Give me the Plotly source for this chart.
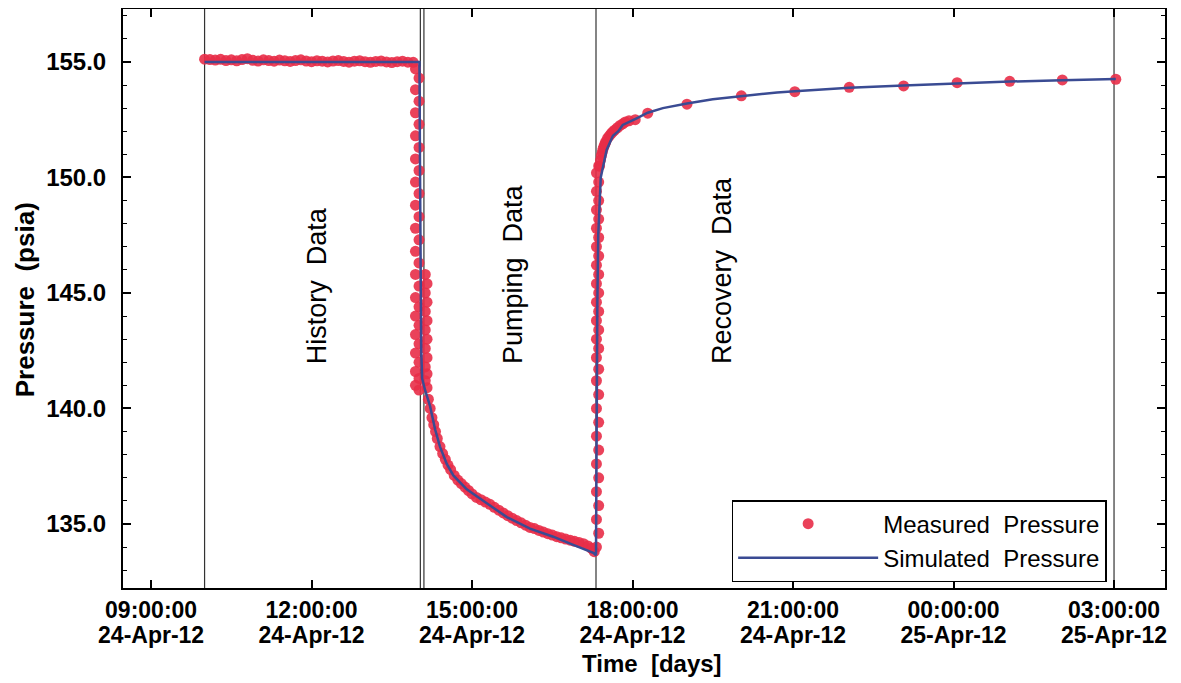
import plotly.graph_objects as go

# ---------------- data ----------------
D1 = "2012-04-24 "
D2 = "2012-04-25 "

# measured pressure (psia)
hist_times = ["10:00", "10:06", "10:12", "10:18", "10:24", "10:30", "10:36", "10:42", "10:48", "10:54",
              "11:00", "11:06", "11:12", "11:18", "11:24", "11:30", "11:36", "11:42", "11:48", "11:54",
              "12:00", "12:06", "12:12", "12:18", "12:24", "12:30", "12:36", "12:42", "12:48", "12:54",
              "13:00", "13:06", "13:12", "13:18", "13:24", "13:30", "13:36", "13:42", "13:48", "13:54"]
hist_values = [155.12, 155.10, 155.08, 155.11, 155.06, 155.09, 155.05, 155.10, 155.14, 155.07,
               155.04, 155.09, 155.06, 155.03, 155.08, 155.05, 155.02, 155.06, 155.09, 155.04,
               155.01, 155.05, 155.03, 155.00, 155.04, 155.06, 155.02, 154.99, 155.03, 155.05,
               155.01, 154.98, 155.02, 155.04, 155.00, 154.97, 155.01, 155.03, 154.99, 154.98]

drop_times = ["13:56:30", "14:00:30"] * 16
drop_values = [154.7, 154.3, 153.8, 153.3, 152.8, 152.3, 151.8, 151.3, 150.8, 150.3,
               149.8, 149.3, 148.8, 148.3, 147.8, 147.3, 146.8, 146.3, 145.8, 145.3,
               144.8, 144.4, 144.0, 143.6, 143.2, 142.8, 142.4, 142.0, 141.6, 141.3,
               141.0, 140.8]

drop2_times = ["14:07:30", "14:09:30"] * 7
drop2_values = [145.8, 145.4, 145.0, 144.6, 144.2, 143.8, 143.4, 143.0, 142.6, 142.2,
                141.8, 141.5, 141.2, 140.9]

pump_times = ["14:11", "14:13", "14:15", "14:17", "14:19", "14:21", "14:24", "14:27", "14:30", "14:33",
              "14:36", "14:40", "14:44", "14:48", "14:52", "14:56", "15:00", "15:05", "15:10", "15:15",
              "15:20", "15:25", "15:30", "15:35", "15:40", "15:45", "15:50", "15:55", "16:00", "16:05",
              "16:10", "16:15", "16:20", "16:25", "16:30", "16:35", "16:40", "16:45", "16:50", "16:55",
              "17:00", "17:05", "17:10", "17:14", "17:17"]
pump_values = [140.4, 140.0, 139.6, 139.3, 139.0, 138.7, 138.35, 138.05, 137.8, 137.55,
               137.35, 137.1, 136.9, 136.75, 136.6, 136.45, 136.3, 136.15, 136.05, 135.95,
               135.85, 135.72, 135.6, 135.48, 135.36, 135.25, 135.15, 135.05, 134.95, 134.85,
               134.8, 134.72, 134.65, 134.58, 134.52, 134.45, 134.4, 134.35, 134.3, 134.25,
               134.2, 134.15, 134.05, 133.95, 133.8]

rise_times = ["17:19:30", "17:22:00"] * 18
rise_values = [134.0, 134.6, 135.2, 135.8, 136.4, 137.0, 137.6, 138.2, 138.8, 139.4,
               140.0, 140.6, 141.2, 141.7, 142.2, 142.6, 143.0, 143.4, 143.8, 144.2,
               144.6, 145.0, 145.4, 145.8, 146.2, 146.6, 147.0, 147.4, 147.8, 148.2,
               148.6, 149.0, 149.4, 149.8, 150.2, 150.5]

rec_times = [D1 + t for t in ["17:23", "17:24", "17:25", "17:26", "17:27", "17:28", "17:29", "17:30",
                              "17:32", "17:34", "17:36", "17:38", "17:40", "17:43", "17:46", "17:49",
                              "17:52", "17:56", "18:03", "18:17", "19:01",
                              "20:02", "21:02", "22:03", "23:04"]] + \
            [D2 + t for t in ["00:04", "01:03", "02:02", "03:02"]]
rec_values = [150.5, 150.75, 150.95, 151.1, 151.25, 151.35, 151.45, 151.55,
              151.7, 151.8, 151.9, 151.98, 152.05, 152.15, 152.25, 152.32,
              152.4, 152.45, 152.5, 152.78, 153.17,
              153.53, 153.71, 153.90, 153.96,
              154.10, 154.16, 154.22, 154.25]

meas_times = ([D1 + t for t in hist_times] + [D1 + t for t in drop_times] +
              [D1 + t for t in drop2_times] + [D1 + t for t in pump_times] +
              [D1 + t for t in rise_times] + rec_times)
meas_values = hist_values + drop_values + drop2_values + pump_values + rise_values + rec_values

# simulated pressure (psia)
sim_times = [D1 + t for t in ["10:00:00", "14:01:00", "14:01:40", "14:02:20", "14:03:00", "14:04:00",
                              "14:07:15", "14:12:54", "14:18:30", "14:24:00", "14:31:37", "14:39:00",
                              "14:54:00", "15:16:30", "15:39:00", "16:05:00", "16:31:00", "16:53:30",
                              "17:16:00", "17:19:00", "17:19:30", "17:20:00", "17:20:30", "17:21:30",
                              "17:24:20", "17:31:00", "17:38:00", "17:44:00", "17:49:00", "18:04:00",
                              "18:17:00", "18:34:00", "19:01:00", "19:30:00", "20:03:00", "20:42:00",
                              "21:02:00", "22:03:00", "23:04:00"]] + \
            [D2 + t for t in ["00:04:00", "01:03:00", "02:02:00", "03:02:00"]]
sim_values = [155.0, 155.0, 150.0, 145.0, 142.5, 141.3,
              140.8, 140.1, 139.1, 138.35, 137.6, 137.1,
              136.5, 135.9, 135.3, 134.8, 134.45, 134.1,
              133.75, 133.65, 138.0, 142.0, 144.5, 147.5,
              150.0, 151.2, 151.8, 152.0, 152.27, 152.55,
              152.8, 153.0, 153.2, 153.38, 153.53, 153.68,
              153.73, 153.88, 153.98,
              154.08, 154.15, 154.21, 154.26]

# phase boundaries
phase_lines = [D1 + "10:00", D1 + "14:02", D1 + "14:06", D1 + "17:19", D2 + "03:00"]

# phase labels (bottom of each label sits at the same pressure)
phase_names = ["History  Data", "Pumping  Data", "Recovery  Data"]
phase_label_x = [D1 + "12:07", D1 + "15:46", D1 + "19:41"]
phase_label_bottom = 141.84

# axis ticks
x_tickvals = [D1 + "09:00", D1 + "12:00", D1 + "15:00", D1 + "18:00", D1 + "21:00", D2 + "00:00", D2 + "03:00"]
x_ticktime = ["09:00:00", "12:00:00", "15:00:00", "18:00:00", "21:00:00", "00:00:00", "03:00:00"]
x_tickdate = ["24-Apr-12", "24-Apr-12", "24-Apr-12", "24-Apr-12", "24-Apr-12", "25-Apr-12", "25-Apr-12"]
y_tickvals = [135, 140, 145, 150, 155]
y_ticktext = ["135.0", "140.0", "145.0", "150.0", "155.0"]

x_title = "Time\u00a0\u00a0[days]"
y_title = "Pressure\u00a0\u00a0(psia)"

# ---------------- figure ----------------
FONT = "Liberation Sans, Arial, sans-serif"
X_RANGE = ["2012-04-24 08:28:30", "2012-04-25 03:57:10"]

fig = go.Figure()
fig.add_trace(go.Scatter(
    x=meas_times, y=meas_values, mode="markers", name="Measured\u00a0\u00a0Pressure",
    marker=dict(symbol="circle", size=11, color="rgba(232,46,72,0.9)", line=dict(width=0)),
))
fig.add_trace(go.Scatter(
    x=sim_times, y=sim_values, mode="lines", name="Simulated\u00a0\u00a0Pressure",
    line=dict(color="#3a4b93", width=2.5),
))
# carrier for the second row of x tick labels (dates)
fig.add_trace(go.Scatter(x=[], y=[], xaxis="x2", yaxis="y", showlegend=False, hoverinfo="skip"))

for t in phase_lines:
    fig.add_shape(type="line", xref="x", yref="paper", x0=t, x1=t, y0=0, y1=1,
                  line=dict(color="#333333", width=1.2), layer="below")

for name, lx in zip(phase_names, phase_label_x):
    fig.add_annotation(x=lx, y=phase_label_bottom, xref="x", yref="y",
                       text=name.replace("  ", "\u00a0\u00a0"),
                       textangle=-90, showarrow=False, xanchor="center", yanchor="bottom",
                       font=dict(family=FONT, size=27, color="black"))

fig.add_annotation(x=0.508, y=-0.131, xref="paper", yref="paper", text=x_title, showarrow=False,
                   xanchor="center", yanchor="middle",
                   font=dict(family=FONT, size=24, color="black", weight="bold"))
fig.add_annotation(x=-0.094, y=0.497, xref="paper", yref="paper", text=y_title, showarrow=False,
                   textangle=-90, xanchor="center", yanchor="middle",
                   font=dict(family=FONT, size=26, color="black", weight="bold"))

tickfont_x = dict(family=FONT, size=23, color="black", weight="bold")

# the page body adds an 8 px offset, so the figure is sized to fit the 1181x683 window
fig.update_layout(
    width=1173, height=675,
    margin=dict(l=115, r=16, t=1, b=95),
    paper_bgcolor="white", plot_bgcolor="white",
    font=dict(family=FONT, color="black"),
    showlegend=True,
    legend=dict(
        x=0.944, y=0.0103, xanchor="right", yanchor="bottom",
        bgcolor="white", bordercolor="black", borderwidth=1.5,
        font=dict(family=FONT, size=24, color="black"),
        tracegroupgap=0, itemwidth=140,
    ),
    xaxis=dict(
        type="date", range=X_RANGE, automargin=False,
        tickmode="array", tickvals=x_tickvals, ticktext=x_ticktime,
        ticks="inside", ticklen=8, tickwidth=1.5, tickcolor="black",
        showline=True, linecolor="black", linewidth=2, mirror="ticks",
        showgrid=False, zeroline=False,
        ticklabelstandoff=0,
        tickfont=tickfont_x,
    ),
    xaxis2=dict(
        type="date", range=X_RANGE, automargin=False,
        overlaying="x", anchor="y", side="bottom",
        tickmode="array", tickvals=x_tickvals, ticktext=x_tickdate,
        ticks="", showline=False, showgrid=False, zeroline=False,
        ticklabelstandoff=31,
        tickfont=tickfont_x,
    ),
    yaxis=dict(
        range=[132.23, 157.29], automargin=False,
        tickmode="array", tickvals=y_tickvals, ticktext=y_ticktext,
        ticks="inside", ticklen=8, tickwidth=1.5, tickcolor="black",
        minor=dict(dtick=1, ticks="inside", ticklen=4, tickwidth=1, tickcolor="black", showgrid=False),
        showline=True, linecolor="black", linewidth=2, mirror="ticks",
        showgrid=False, zeroline=False,
        ticklabelstandoff=10,
        tickfont=dict(family=FONT, size=24, color="black", weight="bold"),
    ),
)

fig.write_html("out.html")
